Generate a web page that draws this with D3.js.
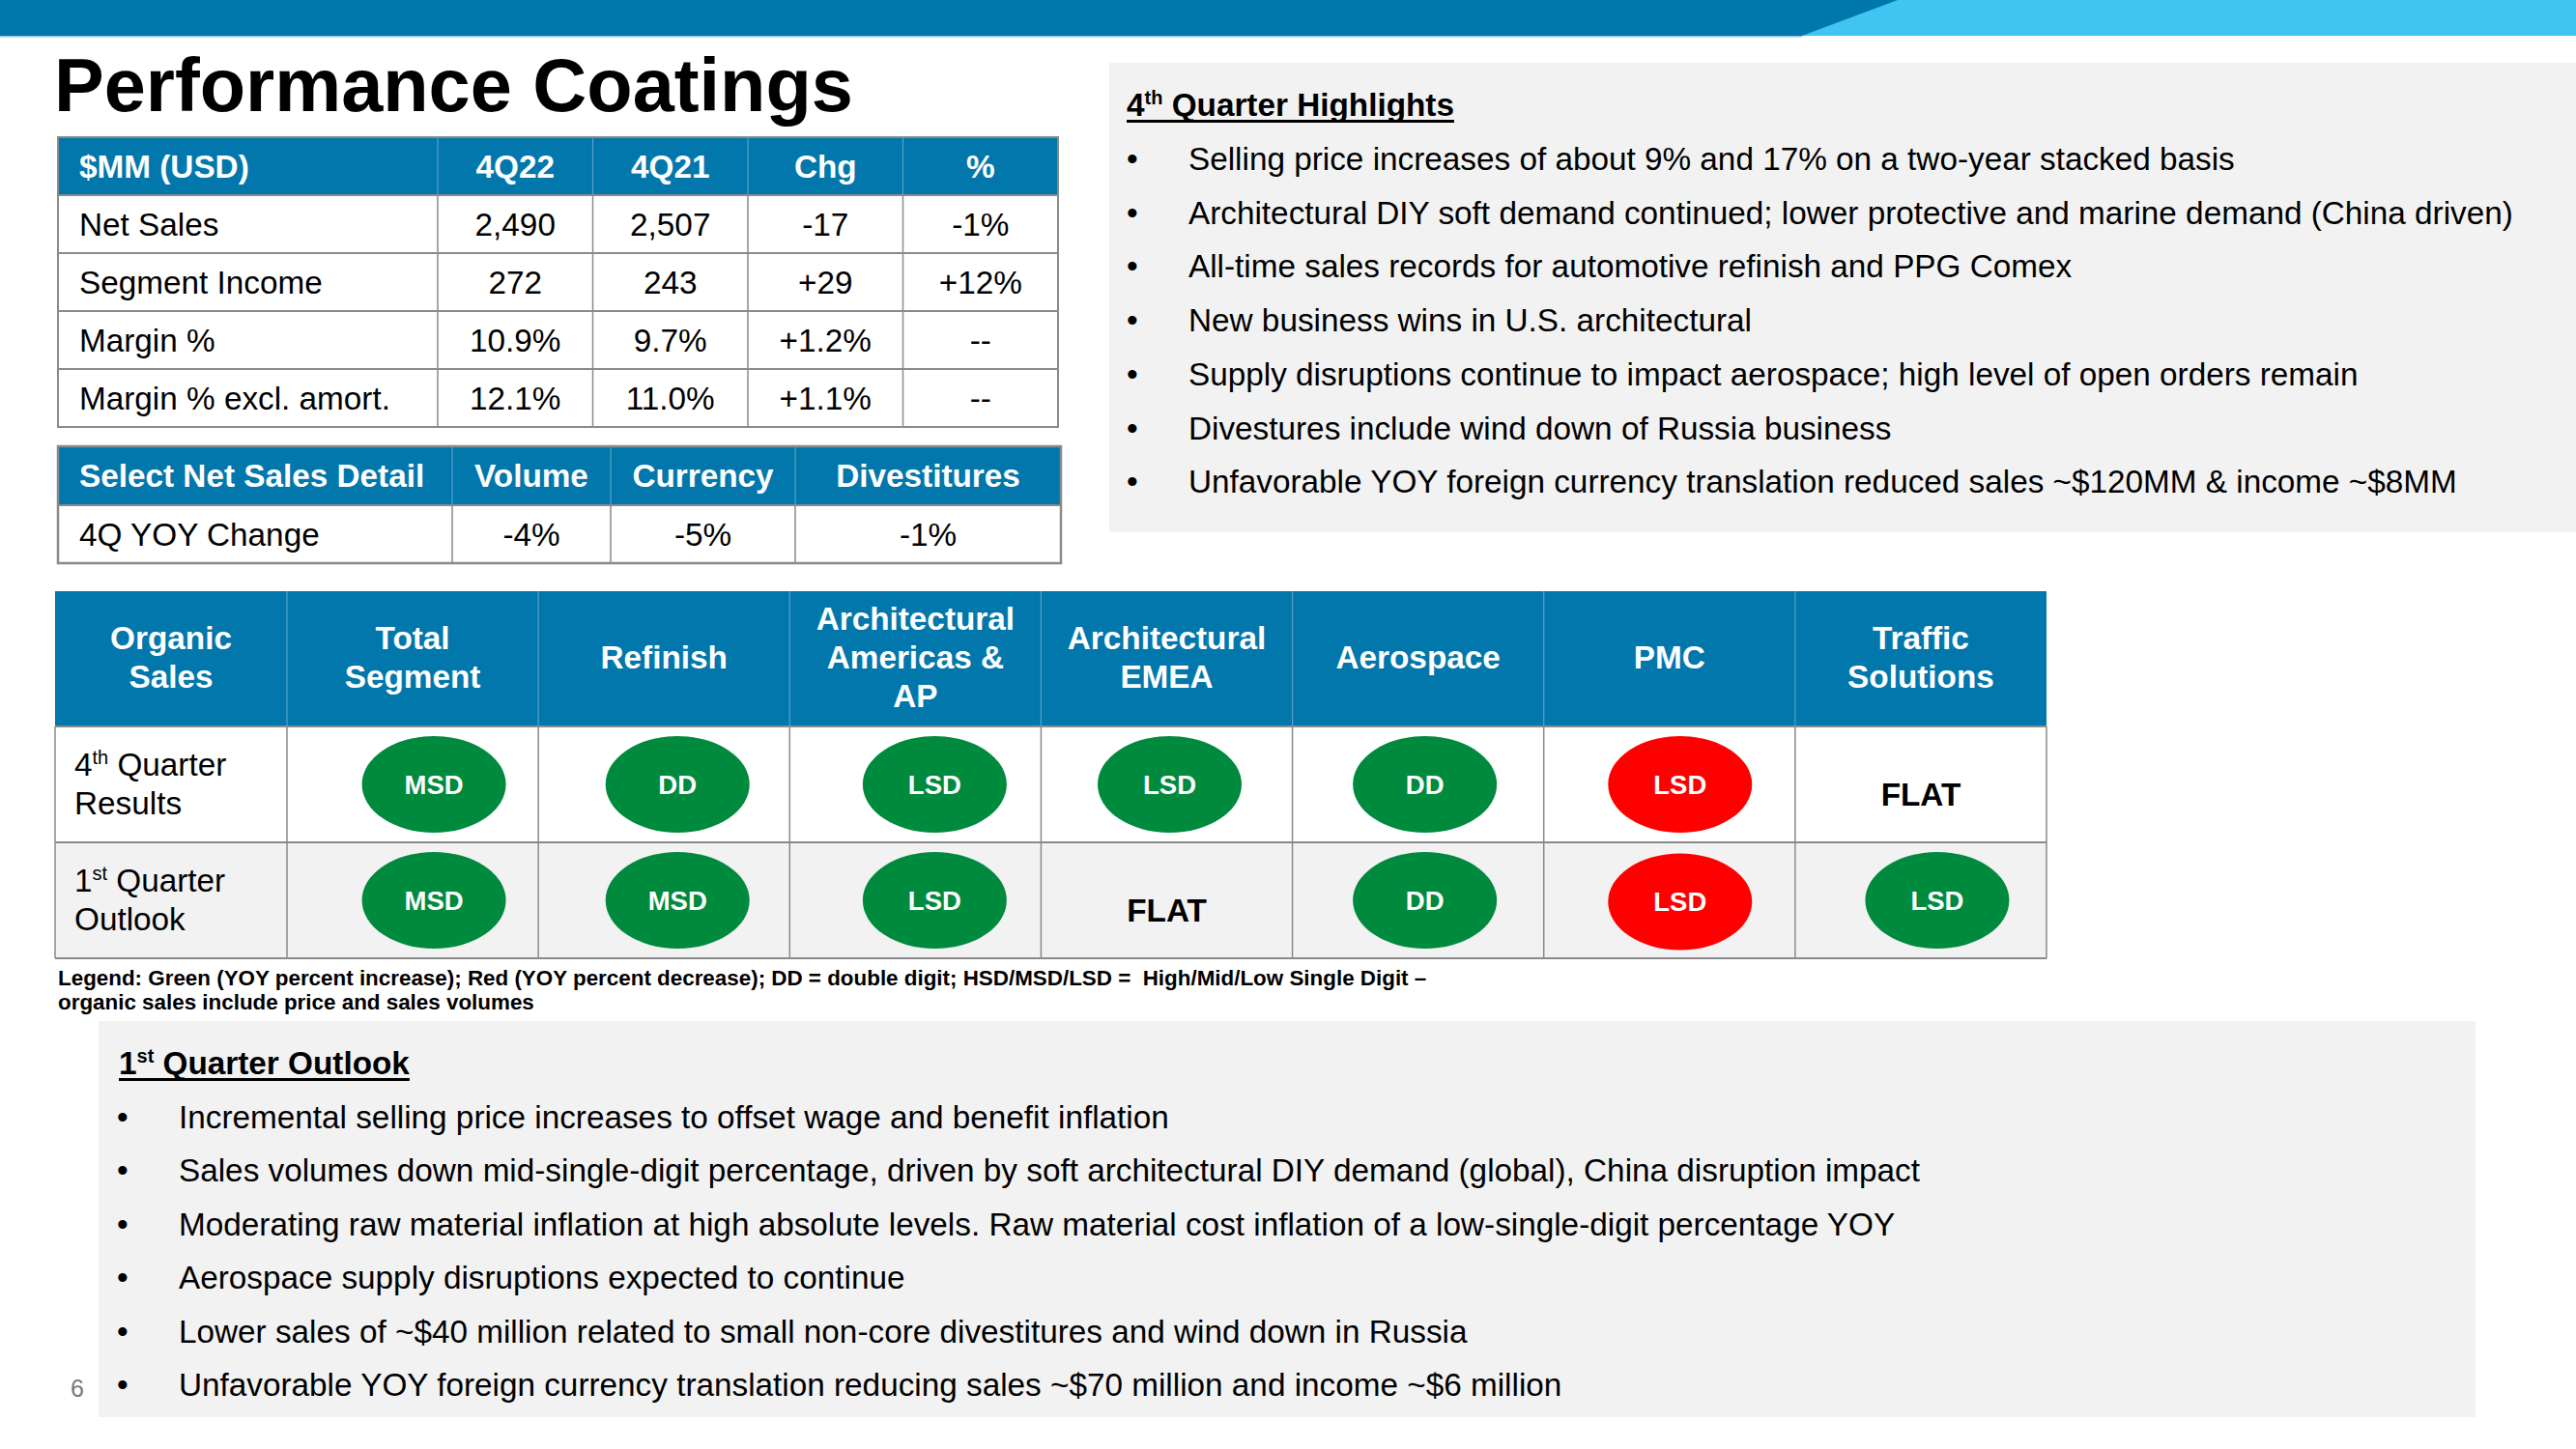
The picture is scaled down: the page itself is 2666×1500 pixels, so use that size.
<!DOCTYPE html>
<html><head><meta charset="utf-8">
<script src="https://cdn.jsdelivr.net/npm/d3@7"></script>
<style>body{margin:0;background:#fff;overflow:hidden} text{font-family:"Liberation Sans",Arial,sans-serif}</style>
</head><body><svg id="c" width="2666" height="1500"></svg>
<script>
// ---------- DATA ----------
const pageTitle = "Performance Coatings";
const finCols = ["$MM (USD)", "4Q22", "4Q21", "Chg", "%"];
const finRows = ["Net Sales", "Segment Income", "Margin %", "Margin % excl. amort."];
const q4_2022 = ["2,490", "272", "10.9%", "12.1%"];
const q4_2021 = ["2,507", "243", "9.7%", "11.0%"];
const changeAbs = ["-17", "+29", "+1.2%", "+1.1%"];
const changePct = ["-1%", "+12%", "--", "--"];

const detailCols = ["Select Net Sales Detail", "Volume", "Currency", "Divestitures"];
const detailRow = "4Q YOY Change";
const detailValues = ["-4%", "-5%", "-1%"];

const highlightsTitle = "4^th^ Quarter Highlights";
const highlights = [
  "Selling price increases of about 9% and 17% on a two-year stacked basis",
  "Architectural DIY soft demand continued; lower protective and marine demand (China driven)",
  "All-time sales records for automotive refinish and PPG Comex",
  "New business wins in U.S. architectural",
  "Supply disruptions continue to impact aerospace; high level of open orders remain",
  "Divestures include wind down of Russia business",
  "Unfavorable YOY foreign currency translation reduced sales ~$120MM & income ~$8MM"
];

const segmentCorner = "Organic\nSales";
const segments = ["Total\nSegment", "Refinish", "Architectural\nAmericas &\nAP", "Architectural\nEMEA", "Aerospace", "PMC", "Traffic\nSolutions"];
const periods = ["4^th^ Quarter\nResults", "1^st^ Quarter\nOutlook"];
const q4Results = ["MSD", "DD", "LSD", "LSD", "DD", "LSD", "FLAT"];
const q4Direction = ["up", "up", "up", "up", "up", "down", "flat"];
const q1Outlook = ["MSD", "MSD", "LSD", "FLAT", "DD", "LSD", "LSD"];
const q1Direction = ["up", "up", "up", "flat", "up", "down", "up"];

const legendLines = [
  "Legend: Green (YOY percent increase); Red (YOY percent decrease); DD = double digit; HSD/MSD/LSD =  High/Mid/Low Single Digit \u2013",
  "organic sales include price and sales volumes"
];

const outlookTitle = "1^st^ Quarter Outlook";
const outlook = [
  "Incremental selling price increases to offset wage and benefit inflation",
  "Sales volumes down mid-single-digit percentage, driven by soft architectural DIY demand (global), China disruption impact",
  "Moderating raw material inflation at high absolute levels. Raw material cost inflation of a low-single-digit percentage YOY",
  "Aerospace supply disruptions expected to continue",
  "Lower sales of ~$40 million related to small non-core divestitures and wind down in Russia",
  "Unfavorable YOY foreign currency translation reducing sales ~$70 million and income ~$6 million"
];
const pageNumber = "6";

// ---------- STYLE / LAYOUT ----------
const W = 2666, H = 1500;
const BLUE = "#0277ab", LIGHTBLUE = "#3fc5f0", GREEN = "#008a3e", RED = "#ff0000";
const PANEL = "#f2f2f2", GRID = "#8a8a8a", HEADSEP = "#5d9fc6";
const FS = 33.3;

const svg = d3.select("#c");

// helper: text with ^superscript^ markup
function richText(g, x, y, str, fs, attrs) {
  const t = g.append("text").attr("x", x).attr("y", y).attr("font-size", fs);
  Object.entries(attrs || {}).forEach(([k, v]) => t.attr(k, v));
  const parts = str.split("^");
  let raised = false;
  parts.forEach((p, i) => {
    if (p === "") return;
    const sup = i % 2 === 1;
    const ts = t.append("tspan").text(p);
    if (sup) {
      ts.attr("font-size", fs * 0.6).attr("dy", -fs * 0.36);
      raised = true;
    } else if (raised) {
      ts.attr("dy", fs * 0.36);
      raised = false;
    }
  });
  return t;
}

// ---------- TOP BAR ----------
svg.append("rect").attr("x", 0).attr("y", 0).attr("width", W).attr("height", 37).attr("fill", LIGHTBLUE);
svg.append("path").attr("d", "M0,0 L1964,0 L1865,37 L0,37 Z").attr("fill", "#0077aa");
svg.append("rect").attr("x", 0).attr("y", 37).attr("width", 1865).attr("height", 1.5).attr("fill", "#8cc8e6");

// ---------- TITLE ----------
svg.append("text").attr("x", 56).attr("y", 115).attr("font-size", 77.5).attr("font-weight", "bold")
  .attr("fill", "#000").text(pageTitle);

// ---------- TABLE 1 ----------
(function () {
  const g = svg.append("g");
  const x0 = 60, xL = 453, x1 = 1095, yTop = 142, yHead = 202, yBot = 442;
  const xNum = d3.scaleBand().domain(finCols.slice(1)).range([xL, x1]);
  const yRow = d3.scaleBand().domain(finRows).range([yHead, yBot]);
  const cols = [q4_2022, q4_2021, changeAbs, changePct];

  g.append("rect").attr("x", x0).attr("y", yTop).attr("width", x1 - x0).attr("height", yHead - yTop).attr("fill", BLUE);
  g.append("rect").attr("x", x0).attr("y", yHead).attr("width", x1 - x0).attr("height", yBot - yHead).attr("fill", "#fff");
  finCols.slice(1).forEach(c => {
    g.append("line").attr("x1", xNum(c)).attr("x2", xNum(c)).attr("y1", yTop).attr("y2", yHead).attr("stroke", HEADSEP).attr("stroke-width", 1.2);
  });
  finRows.forEach(r => {
    g.append("line").attr("x1", x0).attr("x2", x1).attr("y1", yRow(r)).attr("y2", yRow(r)).attr("stroke", GRID).attr("stroke-width", 2);
  });
  finCols.slice(1).forEach(c => {
    g.append("line").attr("x1", xNum(c)).attr("x2", xNum(c)).attr("y1", yHead).attr("y2", yBot).attr("stroke", GRID).attr("stroke-width", 1.5);
  });
  g.append("rect").attr("x", x0).attr("y", yTop).attr("width", x1 - x0).attr("height", yBot - yTop)
    .attr("fill", "none").attr("stroke", GRID).attr("stroke-width", 2);

  const hy = (yTop + yHead) / 2 + 11.5;
  g.append("text").attr("x", 82).attr("y", hy).attr("font-size", FS).attr("font-weight", "bold").attr("fill", "#fff").text(finCols[0]);
  finCols.slice(1).forEach(c => {
    g.append("text").attr("x", xNum(c) + xNum.bandwidth() / 2).attr("y", hy).attr("text-anchor", "middle")
      .attr("font-size", FS).attr("font-weight", "bold").attr("fill", "#fff").text(c);
  });
  finRows.forEach((r, i) => {
    const cy = yRow(r) + yRow.bandwidth() / 2 + 11.5;
    g.append("text").attr("x", 82).attr("y", cy).attr("font-size", FS).attr("fill", "#000").text(r);
    finCols.slice(1).forEach((c, j) => {
      g.append("text").attr("x", xNum(c) + xNum.bandwidth() / 2).attr("y", cy).attr("text-anchor", "middle")
        .attr("font-size", FS).attr("fill", "#000").text(cols[j][i]);
    });
  });
})();

// ---------- TABLE 2 ----------
(function () {
  const g = svg.append("g");
  const edges = [60, 468, 632, 823, 1098];
  const yTop = 462, yHead = 523, yBot = 583;
  g.append("rect").attr("x", edges[0]).attr("y", yTop).attr("width", edges[4] - edges[0]).attr("height", yHead - yTop).attr("fill", BLUE);
  g.append("rect").attr("x", edges[0]).attr("y", yHead).attr("width", edges[4] - edges[0]).attr("height", yBot - yHead).attr("fill", "#fff");
  edges.slice(1, 4).forEach(e => {
    g.append("line").attr("x1", e).attr("x2", e).attr("y1", yTop).attr("y2", yHead).attr("stroke", HEADSEP).attr("stroke-width", 1.2);
    g.append("line").attr("x1", e).attr("x2", e).attr("y1", yHead).attr("y2", yBot).attr("stroke", GRID).attr("stroke-width", 1.5);
  });
  g.append("line").attr("x1", edges[0]).attr("x2", edges[4]).attr("y1", yHead).attr("y2", yHead).attr("stroke", GRID).attr("stroke-width", 2);
  g.append("rect").attr("x", edges[0]).attr("y", yTop).attr("width", edges[4] - edges[0]).attr("height", yBot - yTop)
    .attr("fill", "none").attr("stroke", GRID).attr("stroke-width", 2.5);
  const hy = (yTop + yHead) / 2 + 11.5, by = (yHead + yBot) / 2 + 11.5;
  g.append("text").attr("x", 82).attr("y", hy).attr("font-size", FS).attr("font-weight", "bold").attr("fill", "#fff").text(detailCols[0]);
  g.append("text").attr("x", 82).attr("y", by).attr("font-size", FS).attr("fill", "#000").text(detailRow);
  detailCols.slice(1).forEach((c, j) => {
    const cx = (edges[j + 1] + edges[j + 2]) / 2;
    g.append("text").attr("x", cx).attr("y", hy).attr("text-anchor", "middle").attr("font-size", FS).attr("font-weight", "bold").attr("fill", "#fff").text(c);
    g.append("text").attr("x", cx).attr("y", by).attr("text-anchor", "middle").attr("font-size", FS).attr("fill", "#000").text(detailValues[j]);
  });
})();

// ---------- BULLET PANEL helper ----------
function bulletPanel(box, title, items, tx, ty, bx, lx, by0, step) {
  const g = svg.append("g");
  g.append("rect").attr("x", box[0]).attr("y", box[1]).attr("width", box[2] - box[0]).attr("height", box[3] - box[1]).attr("fill", PANEL);
  const t = richText(g, tx, ty, title, FS, { "font-weight": "bold", fill: "#000" });
  const w = t.node().getComputedTextLength();
  g.append("rect").attr("x", tx).attr("y", ty + 4).attr("width", w).attr("height", 3).attr("fill", "#000");
  items.forEach((s, i) => {
    const y = by0 + i * step;
    g.append("text").attr("x", bx).attr("y", y).attr("font-size", FS).attr("fill", "#000").text("\u2022");
    g.append("text").attr("x", lx).attr("y", y).attr("font-size", FS).attr("fill", "#000").text(s);
  });
  return g;
}

bulletPanel([1148, 65, W, 551], highlightsTitle, highlights, 1166, 120, 1166, 1230, 176, 55.7);

// ---------- SEGMENT TABLE ----------
(function () {
  const g = svg.append("g");
  const x0 = 57, xC = 297, x1 = 2118;
  const yTop = 612, yHead = 752, yBot = 992;
  const xSeg = d3.scaleBand().domain(segments).range([xC, x1]);
  const yPer = d3.scaleBand().domain(periods).range([yHead, yBot]);
  const color = d3.scaleOrdinal().domain(["up", "down"]).range([GREEN, RED]);
  const circleDx = [22, 14, 20, 3, 7, 11, 17];
  const rows = [[q4Results, q4Direction], [q1Outlook, q1Direction]];

  g.append("rect").attr("x", x0).attr("y", yTop).attr("width", x1 - x0).attr("height", yHead - yTop).attr("fill", BLUE);
  g.append("rect").attr("x", x0).attr("y", yPer(periods[0])).attr("width", x1 - x0).attr("height", yPer.bandwidth()).attr("fill", "#fff");
  g.append("rect").attr("x", x0).attr("y", yPer(periods[1])).attr("width", x1 - x0).attr("height", yPer.bandwidth()).attr("fill", PANEL);
  segments.forEach(s => {
    g.append("line").attr("x1", xSeg(s)).attr("x2", xSeg(s)).attr("y1", yTop).attr("y2", yHead).attr("stroke", HEADSEP).attr("stroke-width", 1.2);
    g.append("line").attr("x1", xSeg(s)).attr("x2", xSeg(s)).attr("y1", yHead).attr("y2", yBot).attr("stroke", GRID).attr("stroke-width", 1.5);
  });
  periods.forEach(p => {
    g.append("line").attr("x1", x0).attr("x2", x1).attr("y1", yPer(p)).attr("y2", yPer(p)).attr("stroke", GRID).attr("stroke-width", 2);
  });
  g.append("line").attr("x1", x0).attr("x2", x1).attr("y1", yBot).attr("y2", yBot).attr("stroke", GRID).attr("stroke-width", 2);
  g.append("line").attr("x1", x0).attr("x2", x0).attr("y1", yHead).attr("y2", yBot).attr("stroke", GRID).attr("stroke-width", 1.5);
  g.append("line").attr("x1", x1).attr("x2", x1).attr("y1", yHead).attr("y2", yBot).attr("stroke", GRID).attr("stroke-width", 1.5);

  const hc = (yTop + yHead) / 2 + 10;
  function headLabel(str, cx) {
    const lines = str.split("\n");
    lines.forEach((ln, i) => {
      g.append("text").attr("x", cx).attr("y", hc + (i - (lines.length - 1) / 2) * 40)
        .attr("text-anchor", "middle").attr("font-size", FS).attr("font-weight", "bold").attr("fill", "#fff").text(ln);
    });
  }
  headLabel(segmentCorner, (x0 + xC) / 2);
  segments.forEach(s => headLabel(s, xSeg(s) + xSeg.bandwidth() / 2));

  periods.forEach((p, r) => {
    const cy = yPer(p) + yPer.bandwidth() / 2;
    const lines = p.split("\n");
    lines.forEach((ln, i) => {
      richText(g, 77, cy + 10.5 + (i - (lines.length - 1) / 2) * 40, ln, FS, { fill: "#000" });
    });
    const [vals, dirs] = rows[r];
    segments.forEach((s, j) => {
      const colC = xSeg(s) + xSeg.bandwidth() / 2;
      if (dirs[j] === "flat") {
        g.append("text").attr("x", colC).attr("y", cy + 22).attr("text-anchor", "middle")
          .attr("font-size", FS).attr("font-weight", "bold").attr("fill", "#000").text(vals[j]);
      } else {
        const ex = colC + circleDx[j];
        const ey = cy + (dirs[j] === "down" && r === 1 ? 1.5 : 0);
        g.append("ellipse").attr("cx", ex).attr("cy", ey).attr("rx", 74.5).attr("ry", 50).attr("fill", color(dirs[j]));
        g.append("text").attr("x", ex).attr("y", ey + 9.5).attr("text-anchor", "middle")
          .attr("font-size", 27.5).attr("font-weight", "bold").attr("fill", "#fff").text(vals[j]);
      }
    });
  });
})();

// ---------- LEGEND ----------
legendLines.forEach((ln, i) => {
  svg.append("text").attr("x", 60).attr("y", 1020 + i * 25).attr("font-size", 22.4).attr("font-weight", "bold")
    .attr("fill", "#000").style("white-space", "pre").text(ln);
});

// ---------- OUTLOOK ----------
bulletPanel([102, 1057, 2562, 1467], outlookTitle, outlook, 123, 1112, 121, 185, 1168, 55.4);

// page number
svg.append("text").attr("x", 80).attr("y", 1446).attr("text-anchor", "middle").attr("font-size", 25).attr("fill", "#7a7a7a").text(pageNumber);
</script></body></html>
